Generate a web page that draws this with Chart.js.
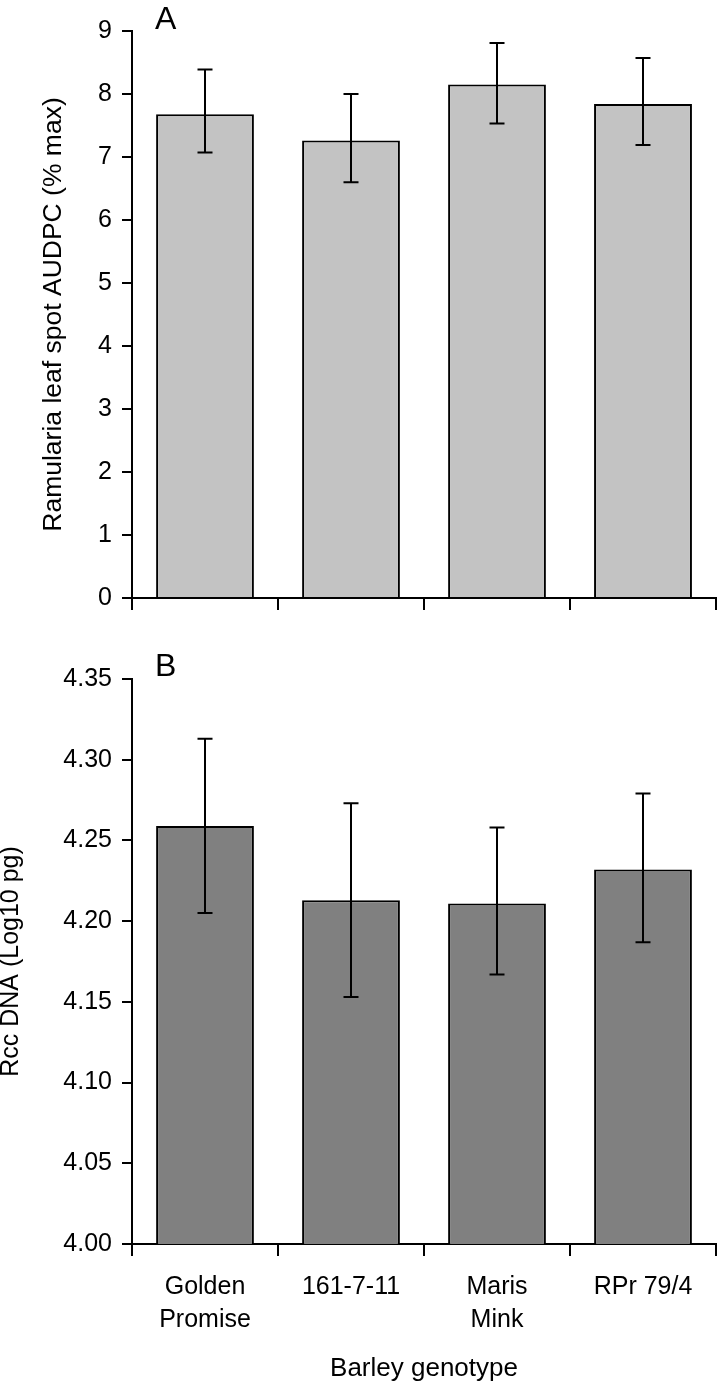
<!DOCTYPE html>
<html>
<head>
<meta charset="utf-8">
<script src="https://cdn.jsdelivr.net/npm/chart.js@4"></script>
<style>
  body { margin: 0; background: #fff; }
  canvas { display: block; }
</style>
</head>
<body>
<canvas id="chartA" width="717" height="640"></canvas>
<canvas id="chartB" width="717" height="744"></canvas>
<script>
var genotypes = [["Golden", "Promise"], "161-7-11", ["Maris", "Mink"], "RPr 79/4"];

// panel A: Ramularia leaf spot AUDPC (% max)
var audpcMean = [7.68, 7.26, 8.15, 7.84];
var audpcUpper = [8.39, 8.00, 8.81, 8.57];
var audpcLower = [7.07, 6.60, 7.53, 7.19];

// panel B: Rcc DNA (Log10 pg)
var dnaMean = [4.259, 4.213, 4.211, 4.232];
var dnaUpper = [4.313, 4.273, 4.258, 4.279];
var dnaLower = [4.205, 4.153, 4.167, 4.187];

var FONT = "'Liberation Sans', Arial, Helvetica, sans-serif";

// error bars + panel letter
function extrasPlugin(upper, lower, letter, letterY) {
  return {
    id: 'extras',
    afterDatasetsDraw: function(chart) {
      var ctx = chart.ctx;
      var y = chart.scales.y;
      var meta = chart.getDatasetMeta(0);
      ctx.save();
      ctx.strokeStyle = '#000';
      ctx.lineWidth = 2;
      for (var i = 0; i < meta.data.length; i++) {
        var x = meta.data[i].x;
        var hi = y.getPixelForValue(upper[i]);
        var lo = y.getPixelForValue(lower[i]);
        ctx.beginPath();
        ctx.moveTo(x, hi); ctx.lineTo(x, lo);
        ctx.moveTo(x - 7.5, hi); ctx.lineTo(x + 7.5, hi);
        ctx.moveTo(x - 7.5, lo); ctx.lineTo(x + 7.5, lo);
        ctx.stroke();
      }
      ctx.fillStyle = '#000';
      ctx.font = '32px ' + FONT;
      ctx.textBaseline = 'alphabetic';
      ctx.fillText(letter, 155, letterY);
      ctx.restore();
    }
  };
}

function makeChart(id, opts) {
  var ctx = document.getElementById(id).getContext('2d');
  return new Chart(ctx, {
    type: 'bar',
    data: {
      labels: genotypes,
      datasets: [{
        data: opts.values,
        backgroundColor: opts.fill,
        borderColor: '#000',
        borderWidth: 2,
        borderSkipped: 'bottom',
        barPercentage: 0.67,
        categoryPercentage: 1
      }]
    },
    options: {
      responsive: false,
      animation: false,
      devicePixelRatio: 1,
      layout: { padding: { top: opts.padTop, right: 1, left: 0, bottom: 0 } },
      plugins: { legend: { display: false }, tooltip: { enabled: false } },
      scales: {
        x: {
          grid: { display: true, offset: true, drawOnChartArea: false, drawTicks: true, tickLength: 12, color: '#000', lineWidth: 2 },
          border: { display: true, color: '#000', width: 2 },
          ticks: { display: opts.showLabels, color: '#000', padding: 15, maxRotation: 0, autoSkip: false,
                   font: { family: FONT, size: 25, lineHeight: 1.3 } },
          title: { display: opts.showLabels, text: 'Barley genotype', color: '#000',
                   font: { family: FONT, size: 26 }, padding: { top: 0, bottom: 0 } },
          afterFit: function(scale) { scale.height = opts.xHeight; }
        },
        y: {
          min: opts.min, max: opts.max,
          grid: { display: true, drawOnChartArea: false, drawTicks: true, tickLength: 10, color: '#000', lineWidth: 2 },
          border: { display: true, color: '#000', width: 2 },
          ticks: { stepSize: opts.step, color: '#000', padding: 10,
                   font: { family: FONT, size: 25 },
                   callback: function(v) { return v.toFixed(opts.decimals); } },
          title: { display: true, text: opts.yTitle, color: '#000',
                   font: { family: FONT, size: opts.titleSize }, padding: { top: opts.titlePad, bottom: 0 } },
          afterFit: function(scale) { scale.width = 132; }
        }
      }
    },
    plugins: [extrasPlugin(opts.upper, opts.lower, opts.letter, opts.letterY)]
  });
}

makeChart('chartA', {
  values: audpcMean, upper: audpcUpper, lower: audpcLower,
  fill: '#c3c3c3', min: 0, max: 9, step: 1, decimals: 0,
  yTitle: 'Ramularia leaf spot AUDPC (% max)', titlePad: 38, titleSize: 26.5,
  padTop: 31, xHeight: 42, showLabels: false, letter: 'A', letterY: 29
});

makeChart('chartB', {
  values: dnaMean, upper: dnaUpper, lower: dnaLower,
  fill: '#808080', min: 4.0, max: 4.35, step: 0.05, decimals: 2,
  yTitle: 'Rcc DNA (Log10 pg)', titlePad: -4, titleSize: 25,
  padTop: 39, xHeight: 140, showLabels: true, letter: 'B', letterY: 36
});
</script>
</body>
</html>
